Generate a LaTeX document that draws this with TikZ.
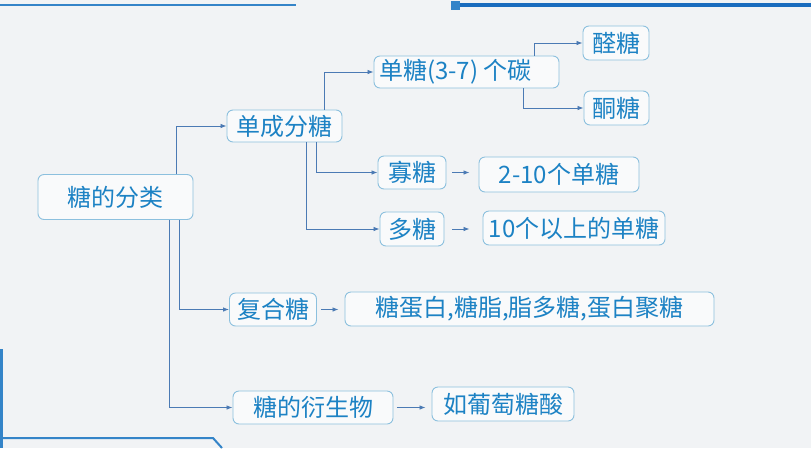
\documentclass[tikz,border=0pt]{standalone}
\usepackage{fontspec}
\setmainfont{Noto Sans CJK SC}
\usetikzlibrary{arrows.meta}
\definecolor{bgc}{RGB}{241,243,245}
\definecolor{txtc}{RGB}{28,130,196}
\definecolor{bordc}{RGB}{140,192,222}
\definecolor{connc}{RGB}{75,122,180}
\definecolor{decoA}{RGB}{52,132,200}
\definecolor{decoB}{RGB}{25,108,190}
\tikzset{
  box/.style={draw=bordc, line width=0.9pt, rounded corners=6pt, fill=white!60!bgc,
    text=txtc, font=\fontsize{24}{26}\selectfont, inner sep=0pt, align=center},
  conn/.style={draw=connc, line width=0.8pt, -{Latex[length=6pt,width=4.5pt]}},
  deco/.style={line width=2pt, draw=decoA}
}
\begin{document}
\begin{tikzpicture}[x=1pt,y=-1pt]
\useasboundingbox (0,0) rectangle (811,448);
\fill[bgc] (0,0) rectangle (811,448);
% decorations
\draw[deco] (0,5) -- (296,5);
\fill[decoA] (451,1) rectangle (460,10);
\draw[line width=3.5pt, draw=decoB] (460,5) -- (811,5);
\draw[line width=3pt, draw=decoA] (1.5,349) -- (1.5,448);
\draw[deco] (0,438) -- (213,438) -- (222,448);
% nodes
\node[box, minimum width=155pt, minimum height=45pt] (root) at (115.5,197) {糖的分类};
\node[box, minimum width=115pt, minimum height=32pt] (dcf) at (284.5,126) {单成分糖};
\node[box, minimum width=185pt, minimum height=32pt] (dt) at (466.5,72) {单糖(3-7) 个碳\hspace*{22pt}};
\node[box, minimum width=66pt, minimum height=34pt] (qt) at (616,43) {醛糖};
\node[box, minimum width=65pt, minimum height=34pt] (tt) at (616.5,108) {酮糖};
\node[box, minimum width=68pt, minimum height=33pt] (gt) at (412,172.5) {寡糖};
\node[box, minimum width=160pt, minimum height=35pt] (g2) at (559,174.5) {2-10个单糖};
\node[box, minimum width=64pt, minimum height=34pt] (dt2) at (412,229) {多糖};
\node[box, minimum width=182pt, minimum height=34pt] (d10) at (574,228) {10个以上的单糖};
\node[box, minimum width=87pt, minimum height=33pt] (fh) at (273,309.5) {复合糖};
\node[box, minimum width=369pt, minimum height=34pt] (fh2) at (529.5,309) {糖蛋白,糖脂,脂多糖,蛋白聚糖};
\node[box, minimum width=160pt, minimum height=33pt] (ys) at (313,407.5) {糖的衍生物};
\node[box, minimum width=142pt, minimum height=34pt] (ys2) at (503,404) {如葡萄糖酸};
% connectors
\draw[conn] ([xshift=139pt]root.north west) |- (dcf.west);
\draw[conn] ([xshift=142pt]root.south west) |- (fh.west);
\draw[conn] ([xshift=132pt]root.south west) |- (ys.west);
\draw[conn] ([xshift=98pt]dcf.north west) |- (dt.west);
\draw[conn] ([xshift=90pt]dcf.south west) |- (gt.west);
\draw[conn] ([xshift=80pt]dcf.south west) |- (dt2.west);
\draw[conn] ([xshift=161pt]dt.north west) |- (qt.west);
\draw[conn] ([xshift=150pt]dt.south west) |- (tt.west);
\draw[conn, shorten <=6pt, shorten >=9pt] (gt.east) -- (gt.east -| g2.west);
\draw[conn, shorten <=8pt, shorten >=13pt] (dt2.east) -- (dt2.east -| d10.west);
\draw[conn, shorten <=4.5pt, shorten >=6pt] (fh.east) -- (fh.east -| fh2.west);
\draw[conn, shorten <=3.5pt, shorten >=6pt] (ys.east) -- (ys.east -| ys2.west);
\end{tikzpicture}
\end{document}
